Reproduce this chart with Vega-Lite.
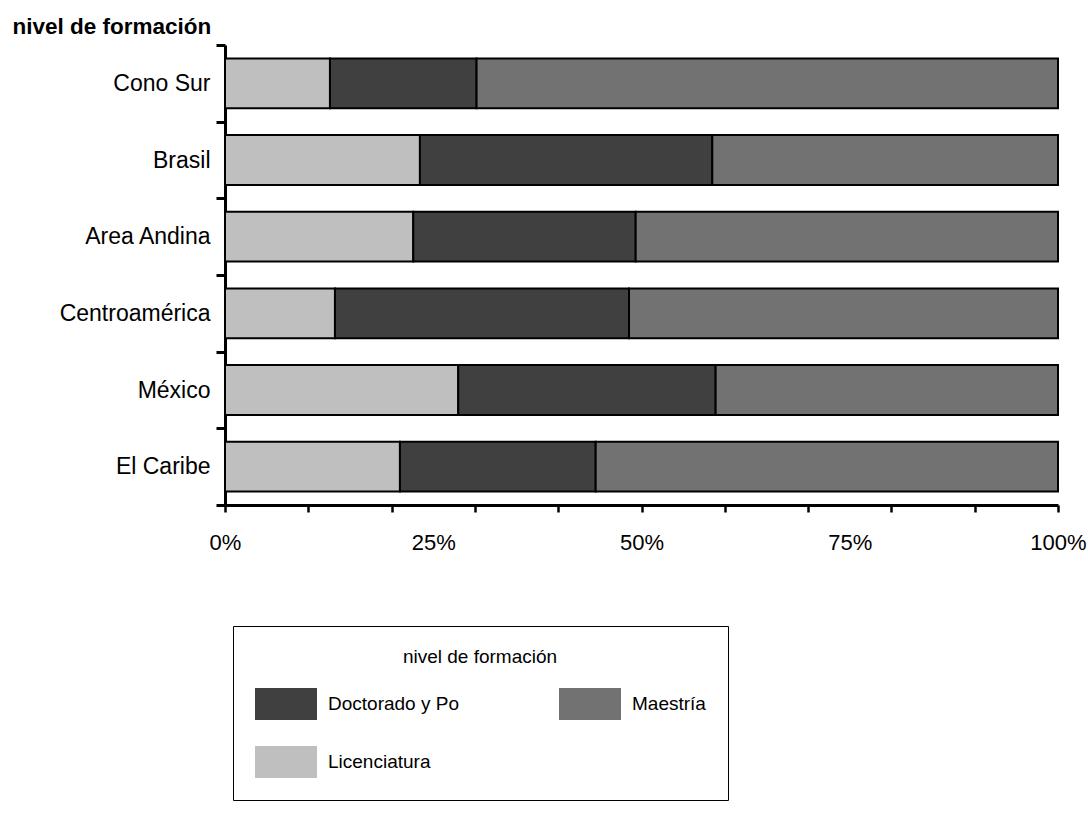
{
  "$schema": "https://vega.github.io/schema/vega-lite/v6.json",
  "width": 833,
  "height": 460,
  "autosize": {"type": "none"},
  "padding": {"left": 225, "top": 45, "right": 30, "bottom": 309},
  "background": "white",
  "config": {
    "font": "Liberation Sans",
    "view": {"stroke": null}
  },
  "data": {
    "values": [
      {"region": "Cono Sur", "nivel": "Licenciatura", "valor": 12.6},
      {"region": "Cono Sur", "nivel": "Doctorado y Po", "valor": 17.6},
      {"region": "Cono Sur", "nivel": "Maestría", "valor": 69.8},
      {"region": "Brasil", "nivel": "Licenciatura", "valor": 23.4},
      {"region": "Brasil", "nivel": "Doctorado y Po", "valor": 35.1},
      {"region": "Brasil", "nivel": "Maestría", "valor": 41.5},
      {"region": "Area Andina", "nivel": "Licenciatura", "valor": 22.6},
      {"region": "Area Andina", "nivel": "Doctorado y Po", "valor": 26.7},
      {"region": "Area Andina", "nivel": "Maestría", "valor": 50.7},
      {"region": "Centroamérica", "nivel": "Licenciatura", "valor": 13.2},
      {"region": "Centroamérica", "nivel": "Doctorado y Po", "valor": 35.3},
      {"region": "Centroamérica", "nivel": "Maestría", "valor": 51.5},
      {"region": "México", "nivel": "Licenciatura", "valor": 28.0},
      {"region": "México", "nivel": "Doctorado y Po", "valor": 30.9},
      {"region": "México", "nivel": "Maestría", "valor": 41.1},
      {"region": "El Caribe", "nivel": "Licenciatura", "valor": 21.0},
      {"region": "El Caribe", "nivel": "Doctorado y Po", "valor": 23.5},
      {"region": "El Caribe", "nivel": "Maestría", "valor": 55.5}
    ]
  },
  "transform": [
    {"calculate": "indexof(['Licenciatura','Doctorado y Po','Maestría'], datum.nivel)", "as": "orden"}
  ],
  "mark": {"type": "bar", "stroke": "black", "strokeWidth": 2, "height": {"band": 0.65}},
  "encoding": {
    "y": {
      "field": "region",
      "type": "nominal",
      "sort": null,
      "scale": {"paddingInner": 0, "paddingOuter": 0},
      "axis": {
        "title": "nivel de formación",
        "titleAngle": 0,
        "titleX": -213,
        "titleY": -12,
        "titleAlign": "left",
        "titleBaseline": "alphabetic",
        "titleFontSize": 22.5,
        "titleFontWeight": "bold",
        "titleColor": "black",
        "labelFontSize": 23,
        "labelColor": "black",
        "labelPadding": 6,
        "tickBand": "extent",
        "tickSize": 9,
        "tickWidth": 3,
        "tickColor": "black",
        "domainColor": "black",
        "domainWidth": 3
      }
    },
    "x": {
      "field": "valor",
      "type": "quantitative",
      "stack": "normalize",
      "scale": {"domain": [0, 1], "nice": false},
      "axis": {
        "title": null,
        "grid": false,
        "values": [0, 0.1, 0.2, 0.25, 0.3, 0.4, 0.5, 0.6, 0.7, 0.75, 0.8, 0.9, 1],
        "labelExpr": "indexof([0, 0.25, 0.5, 0.75, 1], datum.value) >= 0 ? format(datum.value, '.0%') : ''",
        "tickOpacity": {"condition": {"test": "datum.value == 0.25 || datum.value == 0.75", "value": 0}, "value": 1},
        "labelFlush": false,
        "labelFontSize": 22,
        "labelColor": "black",
        "labelPadding": 20,
        "tickSize": 7,
        "tickWidth": 2.5,
        "tickColor": "black",
        "domainColor": "black",
        "domainWidth": 3
      }
    },
    "color": {
      "field": "nivel",
      "type": "nominal",
      "scale": {
        "domain": ["Doctorado y Po", "Licenciatura", "Maestría"],
        "range": ["#404040", "#bfbfbf", "#727272"]
      },
      "legend": {
        "title": "nivel de formación",
        "orient": "none",
        "legendX": 8,
        "legendY": 581,
        "columns": 2,
        "columnPadding": 100,
        "rowPadding": 11,
        "padding": 22,
        "strokeColor": "black",
        "titleAnchor": "middle",
        "titleFontSize": 19,
        "titleFontWeight": "normal",
        "titleColor": "black",
        "titlePadding": 6,
        "labelFontSize": 19,
        "labelColor": "black",
        "labelOffset": 11,
        "symbolType": "M-1,-0.516H1V0.516H-1Z",
        "symbolSize": 3844,
        "symbolStrokeWidth": 0,
        "symbolOpacity": 1
      }
    },
    "order": {"field": "orden", "type": "quantitative"}
  }
}
